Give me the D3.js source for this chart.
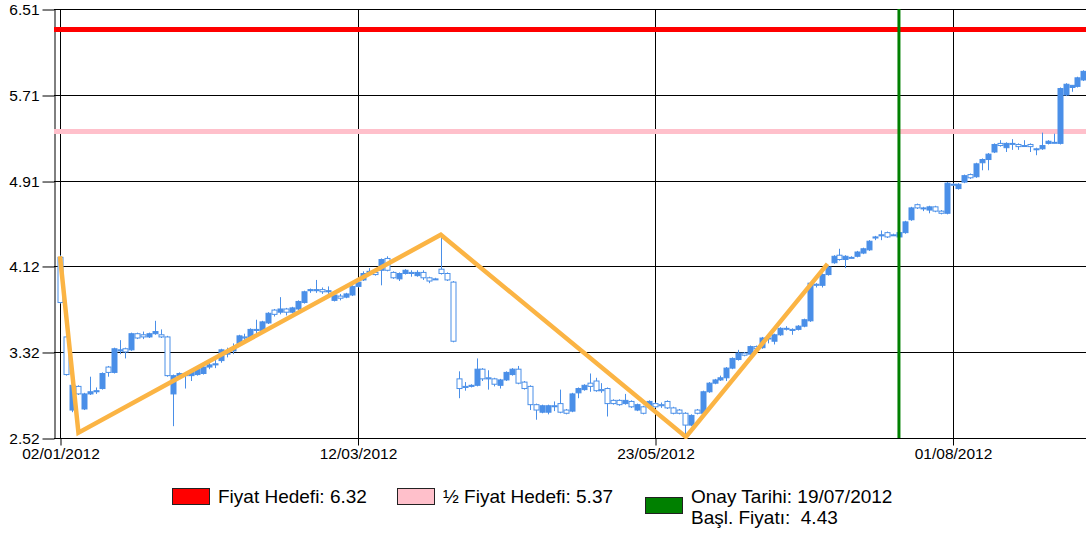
<!DOCTYPE html>
<html>
<head>
<meta charset="utf-8">
<script src="https://cdn.jsdelivr.net/npm/d3@7"></script>
<style>
    body { margin: 0; background: #fff; }
    svg text { font-family: "Liberation Sans", Arial, sans-serif; fill: #000; }
</style>
</head>
<body>
<svg id="chart" width="1086" height="536"></svg>
<script>
'use strict';

// daily candles, one per trading day
var opens = [4.20,3.46,2.78,3.00,2.79,2.93,2.95,2.98,3.18,3.13,3.33,3.35,3.34,3.49,3.48,3.46,3.49,3.48,3.46,2.93,
    3.10,3.10,3.10,3.11,3.12,3.18,3.20,3.24,3.30,3.33,3.40,3.46,3.45,3.52,3.52,3.59,3.71,3.69,3.72,3.69,
    3.72,3.78,3.89,3.89,3.90,3.88,3.80,3.84,3.83,3.85,3.93,3.99,4.05,4.06,4.08,4.19,4.06,4.00,4.05,4.06,
    4.03,4.06,4.01,4.00,4.09,4.05,3.97,3.07,3.00,3.00,3.01,3.16,3.08,3.07,3.01,3.06,3.11,3.16,3.04,3.00,
    2.83,2.76,2.76,2.82,2.84,2.78,2.77,2.94,2.97,3.03,3.05,2.97,2.98,2.87,2.87,2.84,2.86,2.78,2.81,2.81,
    2.84,2.83,2.86,2.80,2.78,2.75,2.64,2.78,2.75,2.95,3.03,3.06,3.08,3.17,3.25,3.31,3.30,3.37,3.36,3.45,
    3.42,3.48,3.54,3.53,3.53,3.56,3.61,3.95,3.94,4.04,4.15,4.22,4.18,4.20,4.21,4.24,4.27,4.38,4.40,4.43,
    4.41,4.39,4.43,4.55,4.69,4.66,4.64,4.67,4.63,4.61,4.88,4.84,4.90,4.97,4.95,5.08,5.11,5.18,5.26,5.22,
    5.26,5.25,5.24,5.25,5.21,5.21,5.26,5.27,5.26,5.71,5.78,5.79,5.85];
var highs = [4.22,3.47,3.02,3.01,2.94,3.09,2.99,3.13,3.19,3.36,3.43,3.36,3.50,3.50,3.51,3.50,3.61,3.53,3.47,3.11,
    3.13,3.13,3.14,3.17,3.19,3.22,3.25,3.35,3.36,3.40,3.48,3.49,3.54,3.62,3.61,3.69,3.72,3.83,3.73,3.74,
    3.80,3.89,3.91,3.99,3.92,3.93,3.86,3.86,3.87,3.94,3.98,4.07,4.10,4.08,4.19,4.21,4.07,4.06,4.09,4.08,
    4.08,4.08,4.02,4.01,4.38,4.06,3.98,3.14,3.04,3.02,3.26,3.17,3.15,3.08,3.07,3.14,3.17,3.19,3.05,3.01,
    2.84,2.83,2.83,2.86,2.97,2.79,2.94,2.99,3.02,3.12,3.08,3.03,2.99,2.88,2.88,2.93,2.87,2.84,2.82,2.87,
    2.85,2.85,2.87,2.81,2.79,2.76,2.74,2.79,2.96,3.04,3.07,3.10,3.18,3.27,3.34,3.32,3.38,3.38,3.46,3.48,
    3.49,3.55,3.56,3.54,3.57,3.63,3.97,3.96,4.05,4.12,4.22,4.28,4.22,4.21,4.26,4.29,4.36,4.40,4.45,4.44,
    4.42,4.44,4.54,4.67,4.70,4.67,4.68,4.68,4.64,4.90,4.89,4.89,4.97,4.98,5.08,5.12,5.17,5.26,5.29,5.27,
    5.30,5.26,5.29,5.26,5.22,5.36,5.29,5.35,5.78,5.82,5.80,5.88,5.94];
var lows = [3.77,3.10,2.76,2.92,2.78,2.92,2.93,2.97,3.09,3.12,3.30,3.26,3.33,3.44,3.44,3.45,3.48,3.45,3.09,2.63,
    3.08,2.98,3.05,3.10,3.11,3.16,3.17,3.22,3.27,3.30,3.39,3.43,3.44,3.49,3.51,3.58,3.65,3.67,3.66,3.68,
    3.71,3.77,3.87,3.87,3.86,3.86,3.79,3.80,3.82,3.84,3.92,3.98,4.04,4.03,3.94,4.07,4.00,3.98,4.04,4.02,
    4.02,3.99,3.96,3.99,4.04,3.98,3.41,2.89,2.96,2.99,3.00,3.05,2.97,3.00,2.98,3.05,3.10,3.02,2.97,2.78,
    2.69,2.75,2.74,2.77,2.75,2.74,2.76,2.89,2.96,2.95,2.95,2.94,2.72,2.83,2.82,2.83,2.80,2.77,2.74,2.80,
    2.80,2.80,2.79,2.74,2.74,2.55,2.63,2.74,2.74,2.94,3.02,3.05,3.05,3.16,3.24,3.28,3.29,3.34,3.35,3.40,
    3.39,3.47,3.52,3.48,3.52,3.55,3.60,3.92,3.92,4.03,4.14,4.17,4.10,4.19,4.20,4.23,4.26,4.36,4.36,4.38,
    4.40,4.38,4.42,4.54,4.65,4.63,4.61,4.62,4.60,4.60,4.87,4.83,4.89,4.93,4.94,5.01,5.01,5.17,5.23,5.18,
    5.20,5.20,5.23,5.18,5.15,5.20,5.25,5.26,5.25,5.70,5.74,5.78,5.84];
var closes = [3.78,3.11,3.01,2.93,2.93,2.95,2.96,3.12,3.13,3.35,3.34,3.32,3.49,3.45,3.46,3.49,3.51,3.46,3.10,3.10,
    3.12,3.12,3.13,3.16,3.18,3.20,3.21,3.34,3.32,3.36,3.47,3.45,3.53,3.53,3.60,3.68,3.67,3.72,3.69,3.73,
    3.79,3.88,3.90,3.90,3.88,3.89,3.85,3.82,3.86,3.93,3.97,4.05,4.07,4.04,4.18,4.08,4.01,4.05,4.08,4.05,
    4.06,4.01,3.98,4.00,4.05,3.99,3.42,2.98,2.99,3.01,3.16,3.07,3.07,3.02,3.06,3.13,3.16,3.03,2.98,2.83,
    2.78,2.82,2.82,2.82,2.76,2.75,2.93,2.98,3.01,3.00,2.96,2.96,2.84,2.84,2.83,2.87,2.81,2.83,2.75,2.86,
    2.81,2.82,2.80,2.75,2.75,2.64,2.73,2.75,2.95,3.03,3.06,3.08,3.17,3.26,3.31,3.29,3.37,3.35,3.45,3.45,
    3.48,3.54,3.54,3.52,3.56,3.62,3.96,3.94,4.04,4.11,4.21,4.18,4.21,4.20,4.25,4.28,4.35,4.39,4.41,4.39,
    4.41,4.43,4.53,4.66,4.66,4.66,4.67,4.63,4.61,4.89,4.88,4.88,4.96,4.94,5.07,5.11,5.16,5.25,5.24,5.26,
    5.26,5.23,5.24,5.23,5.21,5.24,5.28,5.27,5.77,5.81,5.80,5.87,5.93];

var dateIdx = [0, 50, 100, 150];
var dateLabels = ["02/01/2012", "12/03/2012", "23/05/2012", "01/08/2012"];
var yTickLabels = ["2.52", "3.32", "4.12", "4.91", "5.71", "6.51"];

// formation zigzag (candle index, price)
var zigIdx = [0, 3.1, 64, 105.2, 129];
var zigPrice = [4.21, 2.57, 4.41, 2.53, 4.14];

var targetPrice = 6.32;
var halfTarget = 5.37;
var signalIdx = 141;
var legendTexts = ["Fiyat Hedefi: 6.32", "\u00bd Fiyat Hedefi: 5.37", "Onay Tarihi: 19/07/2012", "Ba\u015fl. Fiyat\u0131:  4.43"];

var blue = "#4a8fe8";
var plotLeft = 54, plotRight = 1086, plotTop = 9, plotBottom = 438;

var svg = d3.select("#chart");
var yTicks = yTickLabels.map(Number);

var x = d3.scaleLinear().domain([0, 150]).range([60, 952.5]);
var y = d3.scaleLinear().domain([yTicks[0], yTicks[yTicks.length - 1]]).range([plotBottom, plotTop]);

svg.append("clipPath").attr("id", "plot")
    .append("rect").attr("x", plotLeft).attr("y", 0)
    .attr("width", plotRight - plotLeft).attr("height", plotBottom + 1);

// grid
var grid = svg.append("g").attr("shape-rendering", "crispEdges");
grid.selectAll(".hgrid").data(yTicks).enter().append("line")
    .attr("x1", plotLeft).attr("x2", plotRight)
    .attr("y1", function(d) { return Math.round(y(d)) + 0.5; })
    .attr("y2", function(d) { return Math.round(y(d)) + 0.5; })
    .attr("stroke", "#000");
grid.selectAll(".vgrid").data(dateIdx).enter().append("line")
    .attr("x1", function(d) { return Math.round(x(d)) + 0.5; })
    .attr("x2", function(d) { return Math.round(x(d)) + 0.5; })
    .attr("y1", plotTop).attr("y2", plotBottom)
    .attr("stroke", "#000");

// axes
var yAxis = d3.axisLeft(y).tickValues(yTicks)
    .tickFormat(function(d, i) { return yTickLabels[i]; })
    .tickSize(12).tickSizeOuter(0).tickPadding(3);
var gy = svg.append("g").attr("transform", "translate(" + (plotLeft + 0.5) + ",0.5)").call(yAxis);
gy.selectAll("text").style("font-size", "15.5px");

var xAxis = d3.axisBottom(x).tickValues(dateIdx)
    .tickFormat(function(d, i) { return dateLabels[i]; })
    .tickSize(7).tickSizeOuter(0).tickPadding(2);
var gx = svg.append("g").attr("transform", "translate(0.5," + (plotBottom + 0.5) + ")").call(xAxis);
gx.select(".domain").remove();
gx.selectAll("text").style("font-size", "15.5px");
svg.append("line").attr("x1", plotLeft).attr("x2", plotRight)
    .attr("y1", plotBottom + 0.5).attr("y2", plotBottom + 0.5).attr("stroke", "#000");
svg.selectAll(".tick line, .domain").attr("stroke", "#000");

var plot = svg.append("g").attr("clip-path", "url(#plot)");

// target levels
plot.append("line").attr("x1", plotLeft).attr("x2", plotRight)
    .attr("y1", y(halfTarget)).attr("y2", y(halfTarget))
    .attr("stroke", "#ffc0cb").attr("stroke-width", 5);
plot.append("line").attr("x1", plotLeft).attr("x2", plotRight)
    .attr("y1", y(targetPrice)).attr("y2", y(targetPrice))
    .attr("stroke", "#ff0000").attr("stroke-width", 5);

// candles
var candles = opens.map(function(o, i) {
    return {i: i, o: o, h: highs[i], l: lows[i], c: closes[i]};
});
var candle = plot.selectAll(".candle").data(candles).enter().append("g").attr("class", "candle");
candle.append("line")
    .attr("x1", function(d) { return Math.round(x(d.i)) + 0.5; })
    .attr("x2", function(d) { return Math.round(x(d.i)) + 0.5; })
    .attr("y1", function(d) { return y(d.h); })
    .attr("y2", function(d) { return y(d.l); })
    .attr("stroke", blue);
candle.append("rect")
    .attr("x", function(d) { return Math.round(x(d.i)) - 2; })
    .attr("width", 5)
    .attr("y", function(d) { return y(Math.max(d.o, d.c)); })
    .attr("height", function(d) { return Math.max(1, Math.abs(y(d.o) - y(d.c))); })
    .attr("fill", function(d) { return d.c > d.o ? blue : "#fff"; })
    .attr("stroke", blue);

// signal date
plot.append("line")
    .attr("x1", x(signalIdx)).attr("x2", x(signalIdx))
    .attr("y1", plotTop).attr("y2", plotBottom)
    .attr("stroke", "#008000").attr("stroke-width", 3);

// zigzag
var zig = d3.line().x(function(d) { return x(d[0]); }).y(function(d) { return y(d[1]); });
plot.append("path")
    .datum(d3.zip(zigIdx, zigPrice))
    .attr("d", zig)
    .attr("fill", "none")
    .attr("stroke", "#fbb444")
    .attr("stroke-width", 4.5);

// legend
var legend = svg.append("g").style("font-size", "19px");
var items = [
    {x: 172, y: 488, color: "#ff0000", lines: [legendTexts[0]]},
    {x: 397, y: 488, color: "#ffc0cb", lines: [legendTexts[1]]},
    {x: 645, y: 497, color: "#008000", lines: [legendTexts[2], legendTexts[3]]}
];
items.forEach(function(it) {
    legend.append("rect").attr("x", it.x + 0.5).attr("y", it.y + 0.5)
        .attr("width", 37).attr("height", 16)
        .attr("fill", it.color).attr("stroke", "#222");
    it.lines.forEach(function(t, k) {
        legend.append("text")
            .attr("x", it.x + 46)
            .attr("y", 503 + k * 21)
            .attr("xml:space", "preserve")
            .style("white-space", "pre")
            .text(t);
    });
});
</script>
</body>
</html>
